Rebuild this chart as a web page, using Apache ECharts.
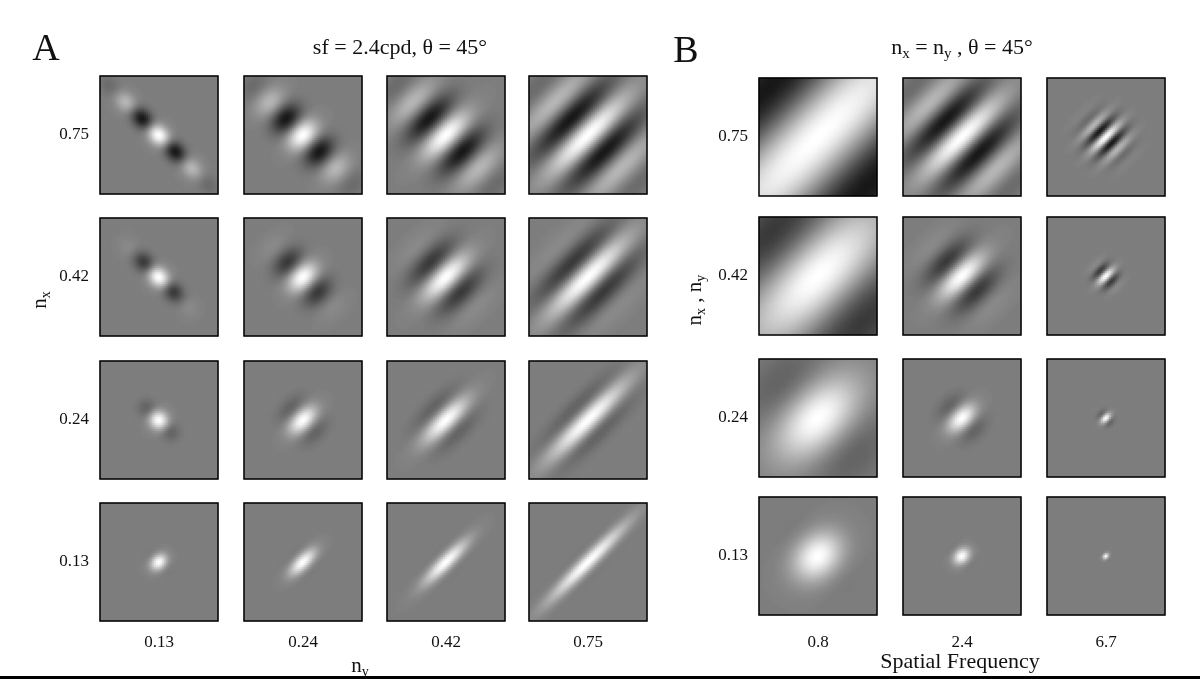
<!DOCTYPE html>
<html><head><meta charset="utf-8">
<script src="https://cdn.jsdelivr.net/npm/echarts@6/dist/echarts.min.js"></script>
<style>html,body{margin:0;background:#fff}#c{width:1200px;height:679px}</style>
</head><body><div id="c"></div>
<script>
// Parameters
const rowLabels = ['0.75','0.42','0.24','0.13'];
const nxA = [0.75, 0.42, 0.24, 0.13];      // panel A rows (n_x)
const nyA = [0.13, 0.24, 0.42, 0.75];      // panel A columns (n_y)
const sfA = 2.4;                            // cpd
const thetaDeg = 45;
const nB = [0.75, 0.42, 0.24, 0.13];        // panel B rows (n_x = n_y)
const sfB = [0.8, 2.4, 6.7];                // panel B columns (cpd)
const colLabelsA = ['0.13','0.24','0.42','0.75'];
const colLabelsB = ['0.8','2.4','6.7'];

const N = 59, EXT = 1.0; // samples per side, field of view (deg)
const colsA = [100,244,387,529], colsB = [759,903,1047];
const rowsA = [76,218,361,503], rowsB = [78,217,359,497];
const W = 118;

function gabor(nx, ny, sf){
  const sx = nx/sf, sy = ny/sf, th = thetaDeg*Math.PI/180, d=[];
  for(let i=0;i<N;i++)for(let j=0;j<N;j++){
    const u=(i+0.5)/N*EXT-EXT/2, v=(j+0.5)/N*EXT-EXT/2;
    const xp = u*Math.cos(th) - v*Math.sin(th);
    const yp = u*Math.sin(th) + v*Math.cos(th);
    d.push([i,j,Math.exp(-(xp*xp/(2*sx*sx)+yp*yp/(2*sy*sy)))*Math.cos(2*Math.PI*sf*xp)]);
  }
  return d;
}
const cats=[...Array(N).keys()];
const grid=[],xAxis=[],yAxis=[],series=[],graphic=[];
function cell(left,top,nx,ny,sf){
  const k=grid.length;
  grid.push({left,top,width:W,height:W});
  xAxis.push({type:'category',data:cats,gridIndex:k,show:false});
  yAxis.push({type:'category',data:cats,gridIndex:k,show:false});
  series.push({type:'heatmap',xAxisIndex:k,yAxisIndex:k,data:gabor(nx,ny,sf),progressive:0,animation:false,emphasis:{disabled:true}});
  graphic.push({type:'rect',shape:{x:left,y:top,width:W,height:W},style:{fill:null,stroke:'#000',lineWidth:1.5},z:100});
}
nxA.forEach((nx,r)=>nyA.forEach((ny,c)=>cell(colsA[c],rowsA[r],nx,ny,sfA)));
nB.forEach((n,r)=>sfB.forEach((sf,c)=>cell(colsB[c],rowsB[r],n,n,sf)));

const F='"Liberation Serif", "DejaVu Serif", serif';
function txt(x,y,t,size,extra){graphic.push(Object.assign({type:'text',x,y,style:{text:t,font:size+'px '+F,fill:'#111',align:'center',verticalAlign:'middle'},z:101},extra||{}));}
rowLabels.forEach((t,r)=>{txt(74,rowsA[r]+W/2,t,17);txt(733,rowsB[r]+W/2,t,17);});
colLabelsA.forEach((t,c)=>txt(colsA[c]+W/2,643,t,17));
colLabelsB.forEach((t,c)=>txt(colsB[c]+W/2,643,t,17));
txt(46,50,'A',38); txt(686,52,'B',38);
txt(400,48,'sf = 2.4cpd, θ = 45°',22);
graphic.push({type:'text',x:962,y:48,z:101,style:{text:'{a|n}{s|x}{a| = n}{s|y}{a| , θ = 45°}',align:'center',verticalAlign:'middle',rich:{a:{font:'22px '+F,fill:'#111'},s:{font:'15px '+F,fill:'#111',padding:[12,0,0,0]}}}});
graphic.push({type:'text',x:360,y:666,z:101,style:{text:'{a|n}{s|y}',align:'center',verticalAlign:'middle',rich:{a:{font:'21px '+F,fill:'#111'},s:{font:'14px '+F,fill:'#111',padding:[12,0,0,0]}}}});
graphic.push({type:'text',x:40,y:300,rotation:Math.PI/2,z:101,style:{text:'{a|n}{s|x}',align:'center',verticalAlign:'middle',rich:{a:{font:'21px '+F,fill:'#111'},s:{font:'14px '+F,fill:'#111',padding:[12,0,0,0]}}}});
graphic.push({type:'text',x:695,y:300,rotation:Math.PI/2,z:101,style:{text:'{a|n}{s|x}{a| , n}{s|y}',align:'center',verticalAlign:'middle',rich:{a:{font:'21px '+F,fill:'#111'},s:{font:'14px '+F,fill:'#111',padding:[12,0,0,0]}}}});
txt(960,662,'Spatial Frequency',22);
graphic.push({type:'rect',shape:{x:0,y:676,width:1200,height:3},style:{fill:'#000'},z:101});

const chart=echarts.init(document.getElementById('c'));
chart.setOption({animation:false,grid,xAxis,yAxis,series,graphic,
  visualMap:{type:'continuous',show:false,min:-1,max:1,seriesIndex:series.map((_,i)=>i),inRange:{color:['#000000','#7f7f7f','#ffffff']}}});
</script></body></html>
